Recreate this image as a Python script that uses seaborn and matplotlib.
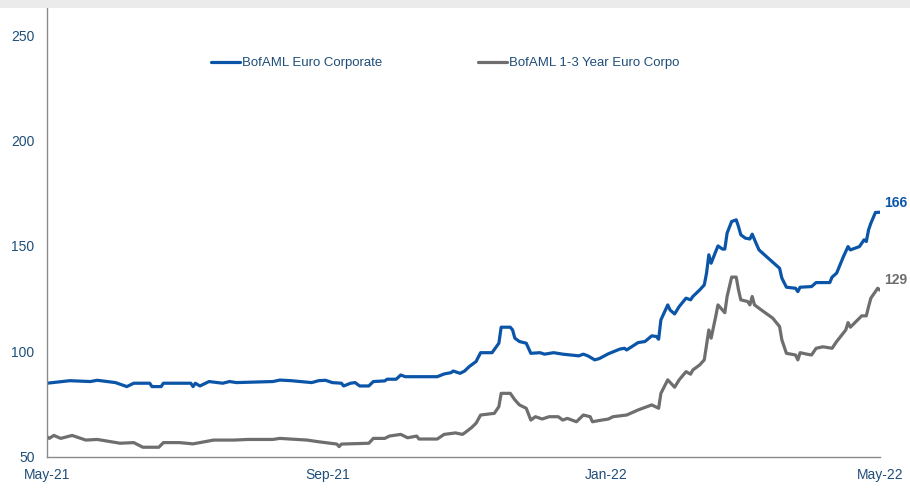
import matplotlib
matplotlib.use("Agg")
import matplotlib.pyplot as plt
from matplotlib.patches import Rectangle
import seaborn as sns
import pandas as pd

# ---------------- data ----------------
series_names = ["BofAML Euro Corporate", "BofAML 1-3 Year Euro Corpo"]

blue_dates = [
    "2021-05-01", "2021-05-11", "2021-05-20", "2021-05-23", "2021-05-31", "2021-06-05",
    "2021-06-08", "2021-06-15", "2021-06-16", "2021-06-20", "2021-06-21", "2021-07-03",
    "2021-07-04", "2021-07-05", "2021-07-07", "2021-07-11", "2021-07-17", "2021-07-20",
    "2021-07-23", "2021-08-08", "2021-08-11", "2021-08-16", "2021-08-25", "2021-08-28",
    "2021-08-31", "2021-09-03", "2021-09-07", "2021-09-08", "2021-09-11", "2021-09-13",
    "2021-09-15", "2021-09-19", "2021-09-21", "2021-09-26", "2021-09-27", "2021-10-01",
    "2021-10-03", "2021-10-05", "2021-10-19", "2021-10-22", "2021-10-25", "2021-10-26",
    "2021-10-29", "2021-10-31", "2021-11-02", "2021-11-05", "2021-11-07", "2021-11-12",
    "2021-11-15", "2021-11-16", "2021-11-20", "2021-11-21", "2021-11-22", "2021-11-24",
    "2021-11-27", "2021-11-29", "2021-12-03", "2021-12-05", "2021-12-09", "2021-12-13",
    "2021-12-20", "2021-12-22", "2021-12-24", "2021-12-27", "2021-12-29", "2022-01-02",
    "2022-01-07", "2022-01-09", "2022-01-10", "2022-01-15", "2022-01-18", "2022-01-21",
    "2022-01-23", "2022-01-24", "2022-01-25", "2022-01-28", "2022-01-29", "2022-01-31",
    "2022-02-02", "2022-02-05", "2022-02-07", "2022-02-08", "2022-02-11", "2022-02-13",
    "2022-02-14", "2022-02-15", "2022-02-16", "2022-02-18", "2022-02-19", "2022-02-21",
    "2022-02-22", "2022-02-23", "2022-02-25", "2022-02-27", "2022-02-28", "2022-03-01",
    "2022-03-03", "2022-03-05", "2022-03-06", "2022-03-08", "2022-03-09", "2022-03-13",
    "2022-03-18", "2022-03-19", "2022-03-21", "2022-03-25", "2022-03-26", "2022-03-27",
    "2022-04-01", "2022-04-03", "2022-04-09", "2022-04-10", "2022-04-12", "2022-04-15",
    "2022-04-17", "2022-04-18", "2022-04-22", "2022-04-24", "2022-04-25", "2022-04-26",
    "2022-04-27", "2022-04-29", "2022-05-01",
]
blue_values = [
    84.8, 86.0, 85.6, 86.2, 85.1, 83.2,
    84.8, 84.8, 83.2, 83.2, 84.8, 84.8,
    83.2, 84.8, 83.5, 85.6, 84.8, 85.6,
    85.1, 85.6, 86.3, 86.0, 85.1, 86.0,
    86.2, 85.1, 84.8, 83.5, 84.8, 85.1,
    83.5, 83.5, 85.6, 85.9, 86.7, 86.7,
    88.7, 87.9, 87.9, 89.2, 89.8, 90.6,
    89.5, 90.6, 92.7, 95.1, 99.3, 99.3,
    103.8, 111.4, 111.4, 110.1, 106.2, 104.6,
    103.8, 99.0, 99.3, 98.6, 99.3, 98.6,
    97.8, 98.6, 97.8, 95.9, 96.5, 98.8,
    101.0, 101.4, 100.6, 104.1, 104.6, 107.3,
    107.0, 105.7, 114.9, 122.0, 119.6, 117.7,
    121.2, 125.2, 124.4, 126.0, 129.1, 131.5,
    137.1, 145.8, 141.8, 147.3, 150.0, 148.5,
    148.5, 156.1, 161.6, 162.4, 159.2, 155.3,
    153.7, 153.3, 155.6, 150.5, 148.1, 144.2,
    139.4, 134.7, 130.4, 129.9, 128.3, 130.4,
    130.7, 132.6, 132.6, 135.2, 137.1, 145.0,
    149.7, 148.1, 149.7, 152.9, 152.1, 157.7,
    160.8, 165.9, 166.0,
]

gray_dates = [
    "2021-05-01", "2021-05-02", "2021-05-04", "2021-05-07", "2021-05-12", "2021-05-18",
    "2021-05-23", "2021-06-02", "2021-06-08", "2021-06-12", "2021-06-19", "2021-06-21",
    "2021-06-28", "2021-07-04", "2021-07-13", "2021-07-22", "2021-07-28", "2021-08-08",
    "2021-08-11", "2021-08-23", "2021-08-28", "2021-09-05", "2021-09-06", "2021-09-07",
    "2021-09-19", "2021-09-21", "2021-09-26", "2021-09-28", "2021-10-03", "2021-10-06",
    "2021-10-10", "2021-10-11", "2021-10-19", "2021-10-22", "2021-10-27", "2021-10-30",
    "2021-10-31", "2021-11-03", "2021-11-05", "2021-11-07", "2021-11-13", "2021-11-15",
    "2021-11-16", "2021-11-20", "2021-11-22", "2021-11-24", "2021-11-27", "2021-11-29",
    "2021-12-01", "2021-12-04", "2021-12-07", "2021-12-11", "2021-12-13", "2021-12-15",
    "2021-12-19", "2021-12-22", "2021-12-25", "2021-12-26", "2021-12-29", "2022-01-02",
    "2022-01-04", "2022-01-10", "2022-01-15", "2022-01-21", "2022-01-24", "2022-01-25",
    "2022-01-28", "2022-01-31", "2022-02-02", "2022-02-05", "2022-02-07", "2022-02-08",
    "2022-02-11", "2022-02-13", "2022-02-15", "2022-02-16", "2022-02-18", "2022-02-19",
    "2022-02-22", "2022-02-23", "2022-02-25", "2022-02-27", "2022-02-28", "2022-03-01",
    "2022-03-04", "2022-03-05", "2022-03-06", "2022-03-07", "2022-03-10", "2022-03-15",
    "2022-03-18", "2022-03-19", "2022-03-21", "2022-03-25", "2022-03-26", "2022-03-27",
    "2022-03-30", "2022-04-01", "2022-04-03", "2022-04-06", "2022-04-10", "2022-04-12",
    "2022-04-16", "2022-04-17", "2022-04-18", "2022-04-23", "2022-04-25", "2022-04-26",
    "2022-04-27", "2022-04-30", "2022-05-01",
]
gray_values = [
    59.4, 58.6, 60.0, 58.6, 60.0, 57.8,
    58.1, 56.3, 56.6, 54.4, 54.4, 56.6,
    56.6, 56.0, 57.8, 57.8, 58.1, 58.1,
    58.6, 57.8, 57.0, 55.9, 54.7, 55.9,
    56.3, 58.6, 58.6, 59.7, 60.5, 58.9,
    59.7, 58.3, 58.3, 60.5, 61.2, 60.5,
    61.2, 63.7, 65.8, 69.7, 70.5, 73.7,
    80.0, 80.0, 76.9, 74.5, 72.9, 67.3,
    68.9, 67.8, 68.9, 68.9, 67.3, 68.1,
    66.5, 69.7, 68.9, 66.5, 67.1, 67.8,
    68.9, 69.7, 72.1, 74.5, 72.9, 80.0,
    86.4, 82.9, 86.4, 90.3, 89.1, 91.1,
    93.5, 95.9, 110.1, 106.2, 116.4, 122.0,
    118.3, 126.0, 135.2, 135.2, 129.1, 124.4,
    123.6, 122.0, 126.0, 122.0, 119.6, 115.7,
    111.7, 105.4, 99.0, 98.2, 95.9, 99.3,
    98.6, 98.2, 101.4, 102.1, 101.4, 104.6,
    110.1, 113.6, 111.4, 116.8, 116.8, 121.2,
    125.2, 129.9, 129.0,
]

end_labels = ["166", "129"]
x_tick_dates = ["2021-05-01", "2021-09-01", "2022-01-01", "2022-05-01"]
x_tick_labels = ["May-21", "Sep-21", "Jan-22", "May-22"]
y_ticks = [50, 100, 150, 200, 250]

# ---------------- styling ----------------
BLUE = "#0B55A8"
GRAY = "#6E6E6E"
TXT = "#1F4E79"

sns.set_style("white")
plt.rcParams["font.family"] = ["Liberation Sans", "DejaVu Sans"]

df = pd.concat([
    pd.DataFrame({"date": pd.to_datetime(blue_dates), "value": blue_values, "series": series_names[0]}),
    pd.DataFrame({"date": pd.to_datetime(gray_dates), "value": gray_values, "series": series_names[1]}),
], ignore_index=True)

fig = plt.figure(figsize=(9.10, 4.99), dpi=100)
fig.patches.append(Rectangle((0, 1 - 8 / 499), 1, 8 / 499, transform=fig.transFigure,
                             facecolor="#EBEBEB", edgecolor="none", zorder=0))
ax = fig.add_axes([47 / 910, 1 - 456.5 / 499, 833 / 910, (456.5 - 8) / 499])

sns.lineplot(data=df, x="date", y="value", hue="series", palette=[BLUE, GRAY],
             linewidth=2.3, ax=ax, legend=True)

ax.set_xlim(pd.Timestamp(x_tick_dates[0]), pd.Timestamp(x_tick_dates[-1]))
ax.set_ylim(50, 263)
ax.set_xticks(pd.to_datetime(x_tick_dates))
ax.set_xticklabels(x_tick_labels)
ax.set_yticks(y_ticks)
ax.set_xlabel("")
ax.set_ylabel("")

for s in ["top", "right"]:
    ax.spines[s].set_visible(False)
for s in ["left", "bottom"]:
    ax.spines[s].set_color("#8A8A8A")
    ax.spines[s].set_linewidth(1.0)

ax.tick_params(axis="both", which="both", length=3, width=0.8, color="#8A8A8A",
               labelcolor=TXT, labelsize=10, direction="out")
ax.tick_params(axis="x", pad=5)
ax.tick_params(axis="y", pad=6)

leg = ax.legend(ncol=2, frameon=False, loc="center", bbox_to_anchor=(0.478, 0.877),
                fontsize=9.5, handlelength=2.2, handletextpad=0.1, columnspacing=7.3)
for t in leg.get_texts():
    t.set_color(TXT)

# end labels
last_blue = df[df.series == series_names[0]].iloc[-1]
last_gray = df[df.series == series_names[1]].iloc[-1]
ax.annotate(end_labels[0], xy=(last_blue.date, last_blue.value), xytext=(3, 7),
            textcoords="offset points", color=BLUE, fontsize=10, fontweight="bold",
            va="center", ha="left", annotation_clip=False)
ax.annotate(end_labels[1], xy=(last_gray.date, last_gray.value), xytext=(3, 7),
            textcoords="offset points", color=GRAY, fontsize=10, fontweight="bold",
            va="center", ha="left", annotation_clip=False)

fig.savefig("out.png", dpi=100, facecolor="white")
